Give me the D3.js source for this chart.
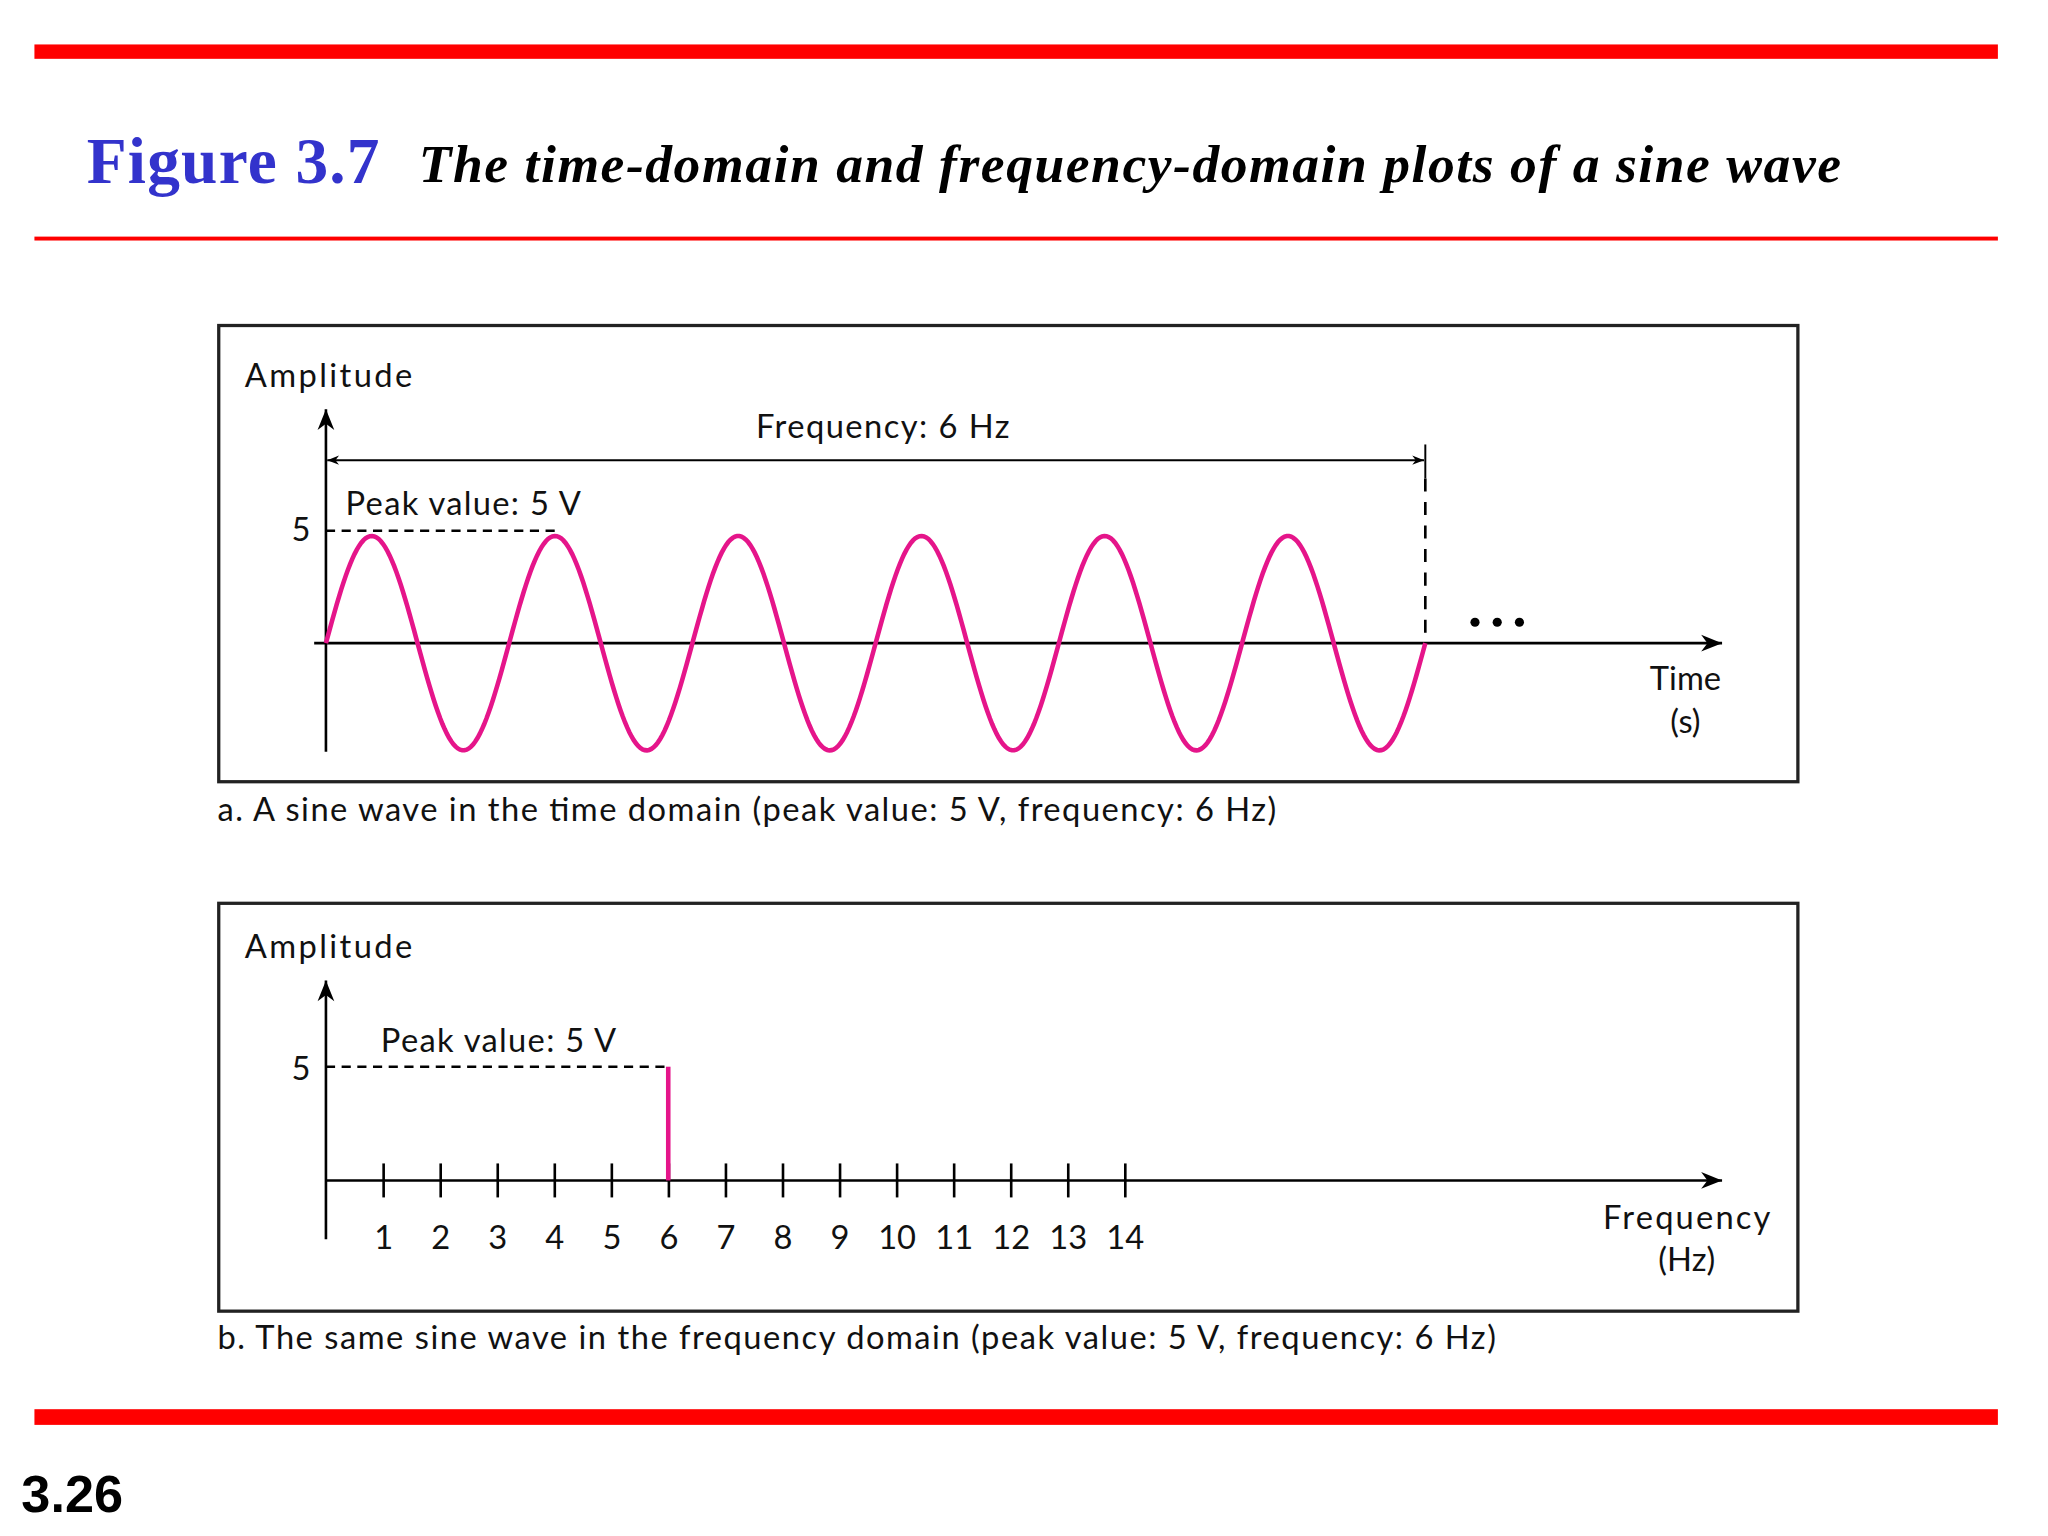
<!DOCTYPE html>
<html><head><meta charset="utf-8">
<script src="https://cdn.jsdelivr.net/npm/d3@7"></script>
<style>body{margin:0;background:#fff}</style></head>
<body><script>
// data
const freq = 6, peak = 5;
const freqTicks = d3.range(1, 15);
const wave = d3.range(0, 1.0005, 0.002).map(t => [t, peak * Math.sin(2 * Math.PI * freq * t)]);
const spectrum = [[6, 5]];

const pink = "#e5158a", font = "Lato, 'Noto Sans', sans-serif";
const svg = d3.select("body").append("svg")
  .attr("width", 2048).attr("height", 1536).attr("viewBox", "0 0 1566 1175");

const defs = svg.append("defs");
defs.append("marker").attr("id", "big").attr("viewBox", "0 0 10 10").attr("refX", 10).attr("refY", 5)
  .attr("markerWidth", 22).attr("markerHeight", 16).attr("markerUnits", "userSpaceOnUse").attr("orient", "auto")
  .append("path").attr("d", "M0,1 L10,5 L0,9 L3,5 Z").attr("fill", "#000");
defs.append("marker").attr("id", "sm").attr("viewBox", "0 0 10 10").attr("refX", 10).attr("refY", 5)
  .attr("markerWidth", 12).attr("markerHeight", 9).attr("markerUnits", "userSpaceOnUse").attr("orient", "auto-start-reverse")
  .append("path").attr("d", "M0,1 L10,5 L0,9 L3,5 Z").attr("fill", "#000");

// header
svg.append("rect").attr("x", 26).attr("y", 34).attr("width", 1502).attr("height", 11).attr("fill", "#ff0000");
svg.append("rect").attr("x", 26).attr("y", 181).attr("width", 1502).attr("height", 3).attr("fill", "#ff0000");
svg.append("rect").attr("x", 26).attr("y", 1078).attr("width", 1502).attr("height", 12).attr("fill", "#ff0000");
svg.append("text").attr("x", 66).attr("y", 140).attr("fill", "#3333cc").attr("font-family", "'Liberation Serif', serif")
  .attr("font-weight", "bold").attr("font-size", 50).attr("textLength", 224).text("Figure 3.7");
svg.append("text").attr("x", 320).attr("y", 139).attr("font-family", "'Liberation Serif', serif")
  .attr("font-weight", "bold").attr("font-style", "italic").attr("font-size", 41).attr("textLength", 1088)
  .text("The time-domain and frequency-domain plots of a sine wave");
svg.append("text").attr("x", 16).attr("y", 1157).attr("font-family", "'Liberation Sans', Arial, sans-serif")
  .attr("font-weight", "bold").attr("font-size", 40).text("3.26");

function txt(x, y, s, anchor) {
  return svg.append("text").attr("x", x).attr("y", y).attr("font-family", font).attr("font-size", 25)
    .attr("text-anchor", anchor || "start").attr("fill", "#111").text(s);
}
function line(x1, y1, x2, y2, w, dash) {
  return svg.append("line").attr("x1", x1).attr("y1", y1).attr("x2", x2).attr("y2", y2)
    .attr("stroke", "#000").attr("stroke-width", w || 2).attr("stroke-dasharray", dash || null);
}

// panel a
svg.append("rect").attr("x", 167).attr("y", 249).attr("width", 1208).attr("height", 349)
  .attr("fill", "none").attr("stroke", "#222").attr("stroke-width", 2.5);
const xa = d3.scaleLinear().domain([0, 1]).range([249, 1090]);
const ya = d3.scaleLinear().domain([-5, 5]).range([574, 410]);
line(249, 575, 249, 313).attr("marker-end", "url(#big)");
line(240, ya(0), 1317, ya(0)).attr("marker-end", "url(#big)");
line(xa(0), 406, 425, 406, 2, "7,5");
line(xa(1), 340, xa(1), 366, 1.5);
line(xa(1), 366, xa(1), ya(0), 2, "10,8");
line(xa(0) + 1, 352, xa(1) - 1, 352, 1.5).attr("marker-start", "url(#sm)").attr("marker-end", "url(#sm)");
svg.append("path").datum(wave).attr("fill", "none").attr("stroke", pink).attr("stroke-width", 3.5)
  .attr("d", d3.line().x(d => xa(d[0])).y(d => ya(d[1])));
txt(187, 296, "Amplitude").attr("textLength", 128);
txt(675, 335, "Frequency: 6 Hz", "middle").attr("textLength", 194);
txt(264, 394, "Peak value: 5 V").attr("textLength", 180);
txt(230, 414, "5", "middle");
[1128, 1145, 1162].forEach(x => svg.append("circle").attr("cx", x).attr("cy", 476).attr("r", 3.5).attr("fill", "#000"));
txt(1289, 528, "Time", "middle");
txt(1289, 561, "(s)", "middle");
txt(166, 628, "a. A sine wave in the time domain (peak value: 5 V, frequency: 6 Hz)").attr("textLength", 810);

// panel b
svg.append("rect").attr("x", 167).attr("y", 691).attr("width", 1208).attr("height", 312)
  .attr("fill", "none").attr("stroke", "#222").attr("stroke-width", 2.5);
const xb = d3.scaleLinear().domain([0, 14]).range([249, 860]);
const yb = d3.scaleLinear().domain([0, 5]).range([903, 816]);
line(249, 948, 249, 750).attr("marker-end", "url(#big)");
line(249, yb(0), 1317, yb(0)).attr("marker-end", "url(#big)");
const ax = svg.append("g").attr("transform", "translate(0," + (yb(0) + 13) + ")")
  .call(d3.axisBottom(xb).tickValues(freqTicks).tickSize(26).tickPadding(-4).tickFormat(d3.format("d")));
ax.select(".domain").remove();
ax.selectAll(".tick line").attr("transform", "translate(0,-26)").attr("stroke-width", 2);
ax.selectAll(".tick text").attr("font-family", font).attr("font-size", 25).attr("fill", "#111").attr("dy", "0.71em");
line(xb(0), yb(peak), xb(6), yb(peak), 2, "7,5");
svg.selectAll(".spike").data(spectrum).join("line").attr("class", "spike")
  .attr("x1", d => xb(d[0])).attr("x2", d => xb(d[0])).attr("y1", yb(0)).attr("y2", d => yb(d[1]))
  .attr("stroke", pink).attr("stroke-width", 3.5);
txt(187, 733, "Amplitude").attr("textLength", 128);
txt(291, 805, "Peak value: 5 V").attr("textLength", 180);
txt(230, 826, "5", "middle");
txt(1290, 940, "Frequency", "middle").attr("textLength", 128);
txt(1290, 972, "(Hz)", "middle");
txt(166, 1032, "b. The same sine wave in the frequency domain (peak value: 5 V, frequency: 6 Hz)").attr("textLength", 978);
</script></body></html>
